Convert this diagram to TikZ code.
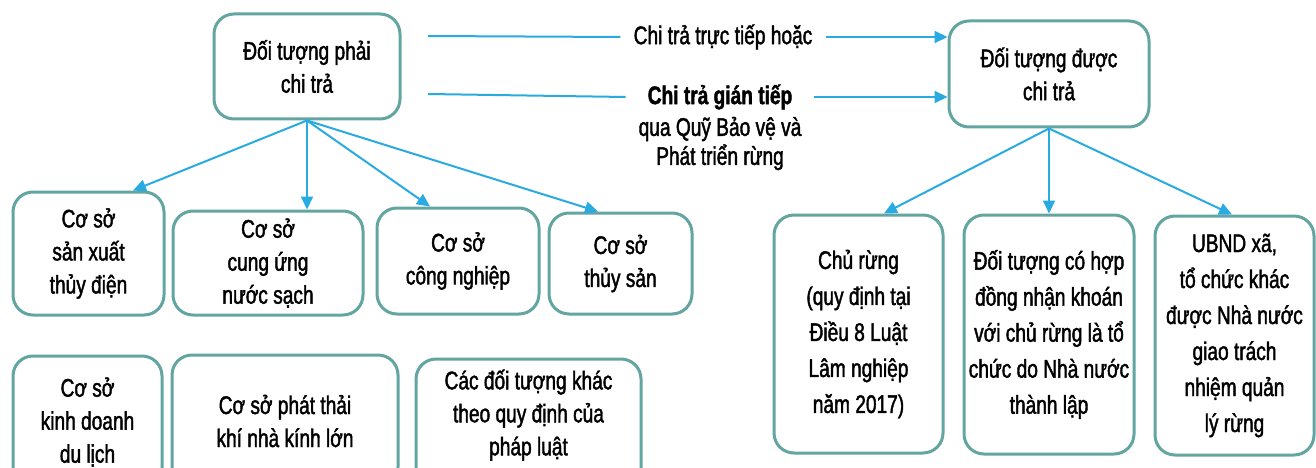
\documentclass[tikz,border=0pt]{standalone}
\usepackage{fontspec}
\setmainfont{Liberation Sans}[FakeStretch=0.75,FakeBold=1.6]
\usetikzlibrary{arrows.meta}
\definecolor{boxc}{HTML}{62A5A1}
\definecolor{arrc}{HTML}{29ABE2}
\tikzset{
  box/.style={draw=boxc, line width=3pt, rounded corners=20pt, align=center, inner sep=0pt, fill=white, font={\fontsize{25.5}{33}\selectfont}},
  tallbox/.style={box, font={\fontsize{25.5}{36}\selectfont}},
  conn/.style={draw=arrc, line width=2pt},
  arr/.style={conn, -{Triangle[length=13pt,width=12pt]}},
  lbl/.style={align=center, inner ysep=0pt, font={\fontsize{25.5}{30}\selectfont}}
}
\begin{document}
\begin{tikzpicture}[x=1pt,y=-1pt]
\useasboundingbox (0,0) rectangle (1316,468);
\fill[white] (0,0) rectangle (1316,468);
\clip (0,0) rectangle (1316,468);

% top boxes
\node[box, minimum width=186pt, minimum height=105pt] (P) at (307,66.5) {Đối tượng phải\\chi trả};
\node[box, minimum width=200pt, minimum height=106pt] (R) at (1049,74) {Đối tượng được\\chi trả};

% middle labels
\node[lbl, inner xsep=13pt] (t1) at (723,37) {Chi trả trực tiếp hoặc};
\node[lbl, inner xsep=22pt, font={\fontsize{25.5}{30}\selectfont\bfseries}] (t2) at (720,97) {Chi trả gián tiếp};
\node[lbl, font={\fontsize{25.5}{29}\selectfont}] (t3) at (720,143.5) {qua Quỹ Bảo vệ và\\Phát triển rừng};
\coordinate (s1) at (428,36);
\coordinate (s2) at (428,94);
\draw[conn] (s1) -- (t1.west);
\draw[arr] (t1.east) -- (R.west |- t1.east);
\draw[conn] (s2) -- (t2.west);
\draw[arr] (t2.east) -- (R.west |- t2.east);

% left children
\node[box, minimum width=151pt, minimum height=123pt] (A) at (88.5,253.5) {Cơ sở\\sản xuất\\thủy điện};
\node[box, minimum width=190pt, minimum height=104pt] (B) at (268,263) {Cơ sở\\cung ứng\\nước sạch};
\node[box, minimum width=162pt, minimum height=106pt] (C) at (458,261) {Cơ sở\\công nghiệp};
\node[box, minimum width=143pt, minimum height=101pt] (D) at (620.5,263.5) {Cơ sở\\thủy sản};
\node[box, minimum width=149pt, minimum height=132pt] (E) at (87.5,422) {Cơ sở\\kinh doanh\\du lịch};
\node[box, minimum width=226pt, minimum height=132pt] (F) at (285,421) {Cơ sở phát thải\\khí nhà kính lớn};
\node[box, minimum width=225pt, minimum height=132pt, text depth=25pt] (G) at (528.5,425) {Các đối tượng khác\\theo quy định của\\pháp luật};

% right children
\node[tallbox, minimum width=169pt, minimum height=238pt] (H) at (858.5,334) {Chủ rừng\\(quy định tại\\Điều 8 Luật\\Lâm nghiệp\\năm 2017)};
\node[tallbox, minimum width=170pt, minimum height=239pt] (I) at (1049,334.5) {Đối tượng có hợp\\đồng nhận khoán\\với chủ rừng là tổ\\chức do Nhà nước\\thành lập};
\node[tallbox, minimum width=159pt, minimum height=239pt] (J) at (1234.5,335.5) {UBND xã,\\tổ chức khác\\được Nhà nước\\giao trách\\nhiệm quản\\lý rừng};

% connectors
\draw[arr] (P.south) -- ([xshift=44.5pt]A.north);
\draw[arr] (P.south) -- ([xshift=39pt]B.north);
\draw[arr] (P.south) -- ([xshift=-28pt]C.north);
\draw[arr] (P.south) -- ([xshift=-22.5pt]D.north);
\draw[arr] (R.south) -- ([xshift=25.5pt]H.north);
\draw[arr] (R.south) -- (I.north);
\draw[arr] (R.south) -- ([xshift=-2.5pt]J.north);
\end{tikzpicture}
\end{document}
